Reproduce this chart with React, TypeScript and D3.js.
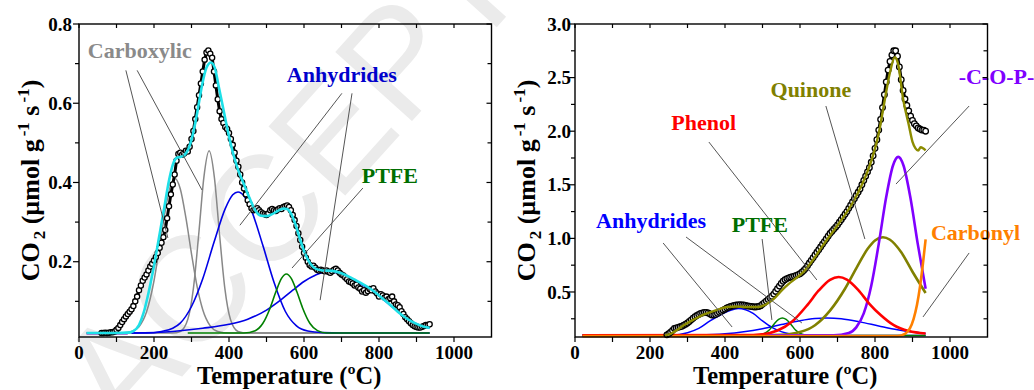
import React from 'react';
import * as d3 from 'd3';

type Pt = [number, number];

const W = 1034;
const H = 390;
const FONT = '"Liberation Serif", "Times New Roman", serif';

// ---------- shared axis settings ----------
const xDomain: Pt = [0, 1100];
const xMajorTicks = [0, 200, 400, 600, 800, 1000];
const xMinorTicks = [100, 300, 500, 700, 900];

// ---------- left panel: CO2 profile and its fitted components ----------
const leftYDomain: Pt = [0.01, 0.8];
const leftYMajor = [0.2, 0.4, 0.6, 0.8];
const leftYMinor = [0.1, 0.3, 0.5, 0.7];

// measured CO2 signal, one reading every 5 ºC starting at 60 ºC
const leftDataStart = 60;
const leftDataStep = 5;
const leftData = [
  0.02, 0.02, 0.021, 0.02, 0.021, 0.022, 0.022, 0.024, 0.028, 0.033,
  0.04, 0.048, 0.055, 0.062, 0.068, 0.074, 0.08, 0.088, 0.1, 0.112,
  0.128, 0.14, 0.152, 0.16, 0.168, 0.178, 0.188, 0.195, 0.203, 0.212,
  0.222, 0.235, 0.248, 0.262, 0.28, 0.31, 0.34, 0.37, 0.395, 0.42,
  0.455, 0.472, 0.475, 0.47, 0.473, 0.48, 0.478, 0.49, 0.51, 0.53,
  0.56, 0.59, 0.62, 0.65, 0.68, 0.71, 0.728, 0.733, 0.725, 0.715,
  0.68, 0.645, 0.61, 0.58, 0.56, 0.55, 0.54, 0.535, 0.525, 0.51,
  0.495, 0.475, 0.455, 0.44, 0.42, 0.4, 0.385, 0.37, 0.355, 0.345,
  0.335, 0.33, 0.332, 0.335, 0.33, 0.325, 0.322, 0.32, 0.318, 0.322,
  0.33, 0.333, 0.33, 0.328, 0.332, 0.335, 0.333, 0.338, 0.34, 0.342,
  0.338, 0.33, 0.318, 0.305, 0.29, 0.272, 0.255, 0.238, 0.222, 0.21,
  0.2, 0.192, 0.188, 0.19, 0.185, 0.18, 0.178, 0.18, 0.178, 0.176,
  0.178, 0.175, 0.172, 0.176, 0.18, 0.182, 0.178, 0.172, 0.168, 0.165,
  0.16, 0.156, 0.15, 0.148, 0.145, 0.14, 0.142, 0.135, 0.132, 0.125,
  0.128, 0.122, 0.126, 0.131, 0.128, 0.133, 0.125, 0.12, 0.112, 0.118,
  0.115, 0.11, 0.112, 0.105, 0.108, 0.112, 0.1, 0.092, 0.09, 0.085,
  0.075, 0.068, 0.06, 0.055, 0.05, 0.045, 0.04, 0.037, 0.035, 0.034,
  0.034, 0.036, 0.038, 0.04, 0.04, 0.042,
];

const leftFit: Pt[] = [
  [20, 0.02], [100, 0.02], [130, 0.021], [145, 0.025], [160, 0.04], [172, 0.07],
  [185, 0.12], [200, 0.19], [215, 0.27], [228, 0.34], [240, 0.405], [252, 0.45],
  [262, 0.463], [272, 0.465], [282, 0.47], [292, 0.485], [302, 0.515], [315, 0.575],
  [328, 0.645], [340, 0.69], [352, 0.703], [362, 0.69], [372, 0.645], [385, 0.585],
  [398, 0.525], [412, 0.47], [425, 0.43], [440, 0.395], [455, 0.36], [470, 0.33],
  [485, 0.316], [500, 0.315], [515, 0.32], [530, 0.328], [545, 0.334], [555, 0.333],
  [565, 0.322], [577, 0.295], [590, 0.255], [603, 0.22], [617, 0.195], [632, 0.182],
  [650, 0.178], [675, 0.177], [700, 0.171], [725, 0.16], [750, 0.147], [775, 0.133],
  [800, 0.115], [825, 0.095], [850, 0.074], [875, 0.056], [900, 0.043], [920, 0.036],
  [935, 0.033],
];
const leftBaseStart: Pt[] = [[20, 0.019], [130, 0.019]];

const carboxylicA: Pt[] = [
  [20, 0.02], [120, 0.021], [140, 0.024], [160, 0.036], [180, 0.073], [200, 0.152],
  [215, 0.238], [230, 0.329], [245, 0.394], [256, 0.41], [270, 0.384], [285, 0.311],
  [300, 0.22], [315, 0.137], [330, 0.079], [350, 0.038], [370, 0.024], [400, 0.02],
  [935, 0.02],
];
const carboxylicB: Pt[] = [
  [20, 0.02], [250, 0.02], [270, 0.024], [290, 0.054], [305, 0.132], [320, 0.277],
  [333, 0.413], [347, 0.48], [361, 0.413], [374, 0.277], [389, 0.132], [404, 0.054],
  [424, 0.024], [450, 0.02], [935, 0.02],
];
const anhydrideA: Pt[] = [
  [140, 0.02], [180, 0.02], [220, 0.024], [250, 0.032], [270, 0.045], [300, 0.087],
  [330, 0.157], [360, 0.249], [390, 0.334], [410, 0.369], [424, 0.376], [440, 0.366],
  [460, 0.329], [490, 0.242], [520, 0.148], [550, 0.075], [580, 0.038], [610, 0.025],
  [650, 0.021], [700, 0.02], [935, 0.02],
];
const anhydrideB: Pt[] = [
  [140, 0.02], [250, 0.024], [330, 0.032], [400, 0.042], [450, 0.055], [500, 0.078],
  [540, 0.105], [570, 0.128], [600, 0.15], [630, 0.166], [655, 0.173], [680, 0.173],
  [710, 0.166], [740, 0.15], [770, 0.133], [800, 0.113], [830, 0.09], [860, 0.068],
  [890, 0.048], [915, 0.038], [935, 0.033],
];
const ptfeLeft: Pt[] = [
  [290, 0.02], [440, 0.02], [470, 0.026], [490, 0.044], [510, 0.084], [525, 0.124],
  [540, 0.158], [553, 0.169], [566, 0.158], [581, 0.124], [596, 0.084], [616, 0.044],
  [636, 0.026], [660, 0.02], [935, 0.02],
];

// ---------- right panel ----------
const rightYDomain: Pt = [0.08, 3.0];
const rightYMajor = [0.5, 1.0, 1.5, 2.0, 2.5, 3.0];
const rightYMinor = [0.25, 0.75, 1.25, 1.75, 2.25, 2.75];

// measured CO2 signal, one reading every 5 ºC starting at 245 ºC
const rightDataStart = 245;
const rightDataStep = 5;
const rightData = [
  0.1, 0.11, 0.125, 0.14, 0.16, 0.165, 0.17, 0.175, 0.18, 0.19,
  0.2, 0.21, 0.225, 0.24, 0.255, 0.27, 0.28, 0.29, 0.3, 0.305,
  0.31, 0.31, 0.305, 0.295, 0.285, 0.285, 0.29, 0.3, 0.31, 0.32,
  0.33, 0.34, 0.35, 0.358, 0.365, 0.37, 0.375, 0.378, 0.38, 0.382,
  0.38, 0.378, 0.375, 0.37, 0.368, 0.365, 0.362, 0.36, 0.362, 0.365,
  0.372, 0.385, 0.4, 0.415, 0.43, 0.445, 0.46, 0.48, 0.505, 0.53,
  0.555, 0.58, 0.6, 0.615, 0.625, 0.632, 0.638, 0.642, 0.648, 0.655,
  0.662, 0.67, 0.685, 0.7, 0.72, 0.745, 0.77, 0.795, 0.82, 0.845,
  0.87, 0.895, 0.92, 0.945, 0.97, 0.995, 1.02, 1.045, 1.065, 1.085,
  1.105, 1.125, 1.15, 1.175, 1.2, 1.225, 1.25, 1.28, 1.31, 1.34,
  1.37, 1.4, 1.43, 1.46, 1.5, 1.54, 1.58, 1.62, 1.66, 1.71,
  1.77, 1.84, 1.92, 2.01, 2.11, 2.22, 2.34, 2.46, 2.57, 2.65,
  2.71, 2.75, 2.75, 2.7, 2.6, 2.48, 2.38, 2.3, 2.24, 2.19,
  2.14, 2.1, 2.07, 2.05, 2.03, 2.02, 2.01, 2.01, 2.0,
];

const rightFit: Pt[] = [
  [240, 0.095], [255, 0.11], [270, 0.14], [290, 0.19], [315, 0.24], [340, 0.285],
  [360, 0.31], [385, 0.34], [405, 0.36], [430, 0.365], [460, 0.36], [490, 0.36],
  [510, 0.385], [530, 0.435], [550, 0.51], [570, 0.575], [590, 0.63], [610, 0.69],
  [635, 0.8], [660, 0.93], [685, 1.05], [710, 1.17], [740, 1.33], [765, 1.5],
  [790, 1.72], [810, 1.98], [825, 2.27], [840, 2.55], [853, 2.69], [862, 2.62],
  [875, 2.3], [890, 2.06], [900, 1.9], [908, 1.84], [915, 1.82], [922, 1.85],
  [928, 1.84], [935, 1.82],
];
const anhydrideR1: Pt[] = [
  [20, 0.095], [260, 0.097], [300, 0.12], [330, 0.16], [360, 0.23], [390, 0.29],
  [415, 0.33], [435, 0.345], [455, 0.335], [475, 0.3], [500, 0.23], [525, 0.17],
  [550, 0.13], [575, 0.107], [600, 0.098], [640, 0.095], [935, 0.095],
];
const anhydrideR2: Pt[] = [
  [20, 0.095], [250, 0.096], [330, 0.099], [400, 0.11], [450, 0.129], [500, 0.158],
  [550, 0.196], [600, 0.232], [640, 0.252], [672, 0.257], [710, 0.25], [760, 0.221],
  [810, 0.183], [860, 0.147], [900, 0.126], [935, 0.113],
];
const ptfeRight: Pt[] = [
  [20, 0.095], [470, 0.095], [490, 0.099], [505, 0.113], [518, 0.145], [530, 0.197],
  [543, 0.244], [553, 0.257], [563, 0.244], [576, 0.197], [588, 0.145], [601, 0.113],
  [616, 0.099], [640, 0.095], [935, 0.095],
];
const phenol: Pt[] = [
  [20, 0.097], [450, 0.098], [500, 0.106], [540, 0.14], [580, 0.227], [620, 0.38],
  [650, 0.514], [680, 0.614], [703, 0.64], [725, 0.616], [755, 0.52], [785, 0.39],
  [815, 0.285], [850, 0.19], [890, 0.135], [935, 0.112],
];
const quinone: Pt[] = [
  [20, 0.095], [500, 0.096], [550, 0.1], [600, 0.126], [640, 0.19], [680, 0.326],
  [720, 0.53], [750, 0.72], [780, 0.9], [800, 0.98], [821, 1.01], [840, 0.987],
  [870, 0.87], [900, 0.689], [935, 0.49],
];
const cop: Pt[] = [
  [20, 0.095], [690, 0.096], [730, 0.117], [750, 0.17], [770, 0.3], [790, 0.558],
  [810, 0.949], [830, 1.388], [848, 1.68], [862, 1.76], [876, 1.68], [894, 1.388],
  [914, 0.949], [935, 0.53],
];
const carbonyl: Pt[] = [
  [20, 0.088], [860, 0.09], [880, 0.11], [893, 0.16], [903, 0.25], [912, 0.38],
  [920, 0.55], [927, 0.74], [935, 0.99],
];

// ---------- annotations (text anchor point and leader lines, in data units) ----------
interface Label { text: string; at: Pt; color: string; }
interface Leader { from: Pt; to: Pt; }

const leftLabels: Label[] = [
  { text: 'Carboxylic', at: [162, 0.714], color: '#8a8a8a' },
  { text: 'Anhydrides', at: [701, 0.653], color: '#0000cc' },
  { text: 'PTFE', at: [829, 0.398], color: '#006e00' },
];
const leftLeaders: Leader[] = [
  { from: [125, 0.683], to: [237, 0.26] },
  { from: [155, 0.683], to: [328, 0.381] },
  { from: [701, 0.625], to: [429, 0.292] },
  { from: [728, 0.625], to: [643, 0.103] },
  { from: [757, 0.386], to: [568, 0.184] },
];
const rightLabels: Label[] = [
  { text: 'Anhydrides', at: [203, 1.097], color: '#0000ff' },
  { text: 'PTFE', at: [493, 1.06], color: '#006e00' },
  { text: 'Phenol', at: [343, 2.011], color: '#ff0000' },
  { text: 'Quinone', at: [629, 2.318], color: '#808000' },
  { text: '-C-O-P-', at: [1124, 2.44], color: '#8000ff' },
  { text: 'Carbonyl', at: [1068, 0.985], color: '#ff7f00' },
];
const rightLeaders: Leader[] = [
  { from: [235, 0.957], to: [419, 0.173] },
  { from: [296, 1.013], to: [605, 0.211] },
  { from: [499, 0.994], to: [525, 0.239] },
  { from: [357, 1.899], to: [645, 0.612] },
  { from: [669, 2.235], to: [773, 0.994] },
  { from: [1051, 2.235], to: [856, 1.507] },
  { from: [1051, 0.864], to: [928, 0.267] },
];

interface Curve { pts: Pt[]; color: string; width: number; }

interface PanelProps {
  left: number;
  right: number;
  top: number;
  bottom: number;
  yDomain: Pt;
  yMajor: number[];
  yMinor: number[];
  yLabelGap: number;
  data: Pt[];
  dotR: number;
  curves: Curve[];
  overCurves: Curve[];
  labels: Label[];
  leaders: Leader[];
}

function Panel(p: PanelProps) {
  const x = d3.scaleLinear().domain(xDomain).range([p.left, p.right]);
  const y = d3.scaleLinear().domain(p.yDomain).range([p.bottom, p.top]);
  const smooth = d3.line<Pt>().x((d) => x(d[0])).y((d) => y(d[1])).curve(d3.curveMonotoneX);
  const straight = d3.line<Pt>().x((d) => x(d[0])).y((d) => y(d[1]));
  const fmt = d3.format('.1f');
  const cx = (p.left + p.right) / 2;

  return (
    <g>
      {/* fitted components */}
      {p.curves.map((c, i) => (
        <path key={'c' + i} d={smooth(c.pts) || ''} fill="none" stroke={c.color}
          strokeWidth={c.width} strokeLinejoin="round" />
      ))}
      {/* measured signal: open circles */}
      <path d={straight(p.data) || ''} fill="none" stroke="#000" strokeWidth={3} />
      {p.data.map((d, i) => (
        <circle key={'d' + i} cx={x(d[0])} cy={y(d[1])} r={p.dotR} fill="#fff" stroke="#000" strokeWidth={1.3} />
      ))}
      {/* fit curves drawn over the points */}
      {p.overCurves.map((c, i) => (
        <path key={'o' + i} d={smooth(c.pts) || ''} fill="none" stroke={c.color}
          strokeWidth={c.width} strokeLinejoin="round" />
      ))}
      {/* leader lines */}
      {p.leaders.map((l, i) => (
        <line key={'l' + i} x1={x(l.from[0])} y1={y(l.from[1])} x2={x(l.to[0])} y2={y(l.to[1])}
          stroke="#555" strokeWidth={1} />
      ))}
      {p.labels.map((l, i) => (
        <text key={'t' + i} x={x(l.at[0])} y={y(l.at[1])} textAnchor="middle" fill={l.color}
          fontFamily={FONT} fontWeight="bold" fontSize={22}>{l.text}</text>
      ))}
      {/* frame */}
      <rect x={p.left} y={p.top} width={p.right - p.left} height={p.bottom - p.top}
        fill="none" stroke="#000" strokeWidth={1.4} />
      {/* x ticks: outward at bottom, inward at top */}
      {[...xMajorTicks, ...xMinorTicks].map((t) => (
        <g key={'xt' + t}>
          <line x1={x(t)} x2={x(t)} y1={p.bottom} y2={p.bottom + 5} stroke="#000" strokeWidth={1.2} />
          <line x1={x(t)} x2={x(t)} y1={p.top} y2={p.top + 4} stroke="#000" strokeWidth={1.2} />
        </g>
      ))}
      {xMajorTicks.map((t) => (
        <text key={'xl' + t} x={x(t)} y={358.5} textAnchor="middle" fontFamily={FONT}
          fontWeight="bold" fontSize={19}>{t}</text>
      ))}
      {/* y ticks: outward at left, inward at right */}
      {p.yMajor.map((t) => (
        <g key={'ym' + t}>
          <line x1={p.left - 6} x2={p.left} y1={y(t)} y2={y(t)} stroke="#000" strokeWidth={1.2} />
          <line x1={p.right - 5} x2={p.right} y1={y(t)} y2={y(t)} stroke="#000" strokeWidth={1.2} />
          <text x={p.left - p.yLabelGap} y={y(t)} dy="0.35em" textAnchor="end" fontFamily={FONT}
            fontWeight="bold" fontSize={19}>{fmt(t)}</text>
        </g>
      ))}
      {p.yMinor.map((t) => (
        <g key={'yn' + t}>
          <line x1={p.left - 4} x2={p.left} y1={y(t)} y2={y(t)} stroke="#000" strokeWidth={1.2} />
          <line x1={p.right - 4} x2={p.right} y1={y(t)} y2={y(t)} stroke="#000" strokeWidth={1.2} />
        </g>
      ))}
      {/* axis titles */}
      <text x={cx + 4} y={384} textAnchor="middle" fontFamily={FONT} fontWeight="bold" fontSize={24.5}>
        Temperature (ºC)
      </text>
      <text transform={`translate(${p.left - 40},${(p.top + p.bottom) / 2}) rotate(-90)`}
        textAnchor="middle" fontFamily={FONT} fontWeight="bold" fontSize={26}>
        CO<tspan dx={3} dy={6} fontSize={17}>2</tspan>
        <tspan dy={-6}> (µmol g</tspan>
        <tspan dx={3} dy={-10} fontSize={17}>-1</tspan>
        <tspan dy={10}> s</tspan>
        <tspan dx={3} dy={-10} fontSize={17}>-1</tspan>
        <tspan dy={10}>)</tspan>
      </text>
    </g>
  );
}

const toPoints = (start: number, step: number, vals: number[]): Pt[] =>
  vals.map((v, i) => [start + i * step, v] as Pt);

export default function App() {
  const leftCurves: Curve[] = [
    { pts: carboxylicA, color: '#888888', width: 1.5 },
    { pts: carboxylicB, color: '#888888', width: 1.5 },
    { pts: anhydrideB, color: '#0000e6', width: 1.6 },
    { pts: anhydrideA, color: '#0000e6', width: 1.6 },
    { pts: ptfeLeft, color: '#008000', width: 1.6 },
    { pts: leftBaseStart, color: '#b040c0', width: 2.4 },
  ];
  const leftOver: Curve[] = [{ pts: leftFit, color: '#1ee0e8', width: 2.6 }];
  const rightCurves: Curve[] = [
    { pts: anhydrideR2, color: '#0000ff', width: 1.5 },
    { pts: anhydrideR1, color: '#0000ff', width: 1.5 },
    { pts: ptfeRight, color: '#008000', width: 1.5 },
    { pts: quinone, color: '#808000', width: 2.6 },
    { pts: cop, color: '#8000ff', width: 2.6 },
    { pts: phenol, color: '#ff0000', width: 2.6 },
    { pts: carbonyl, color: '#ff8000', width: 2.6 },
  ];
  const rightOver: Curve[] = [{ pts: rightFit, color: '#8c8c00', width: 2.4 }];

  return (
    <svg width={W} height={H} viewBox={`0 0 ${W} ${H}`}
      style={{ position: 'absolute', left: 0, top: 0, background: '#fff' }}>
      <rect width={W} height={H} fill="#fff" />
      {/* watermark */}
      <text transform="translate(125,440) rotate(-48)" fontFamily='"Liberation Sans", Arial, sans-serif'
        fontSize={150} fill="#ebebeb">ACCEPTED</text>
      <Panel left={79} right={491.5} top={24} bottom={337} yDomain={leftYDomain}
        yMajor={leftYMajor} yMinor={leftYMinor} yLabelGap={7}
        data={toPoints(leftDataStart, leftDataStep, leftData)} dotR={2.6}
        curves={leftCurves} overCurves={leftOver}
        labels={leftLabels} leaders={leftLeaders} />
      <Panel left={575} right={987.5} top={24} bottom={337} yDomain={rightYDomain}
        yMajor={rightYMajor} yMinor={rightYMinor} yLabelGap={4}
        data={toPoints(rightDataStart, rightDataStep, rightData)} dotR={2.8}
        curves={rightCurves} overCurves={rightOver}
        labels={rightLabels} leaders={rightLeaders} />
    </svg>
  );
}
